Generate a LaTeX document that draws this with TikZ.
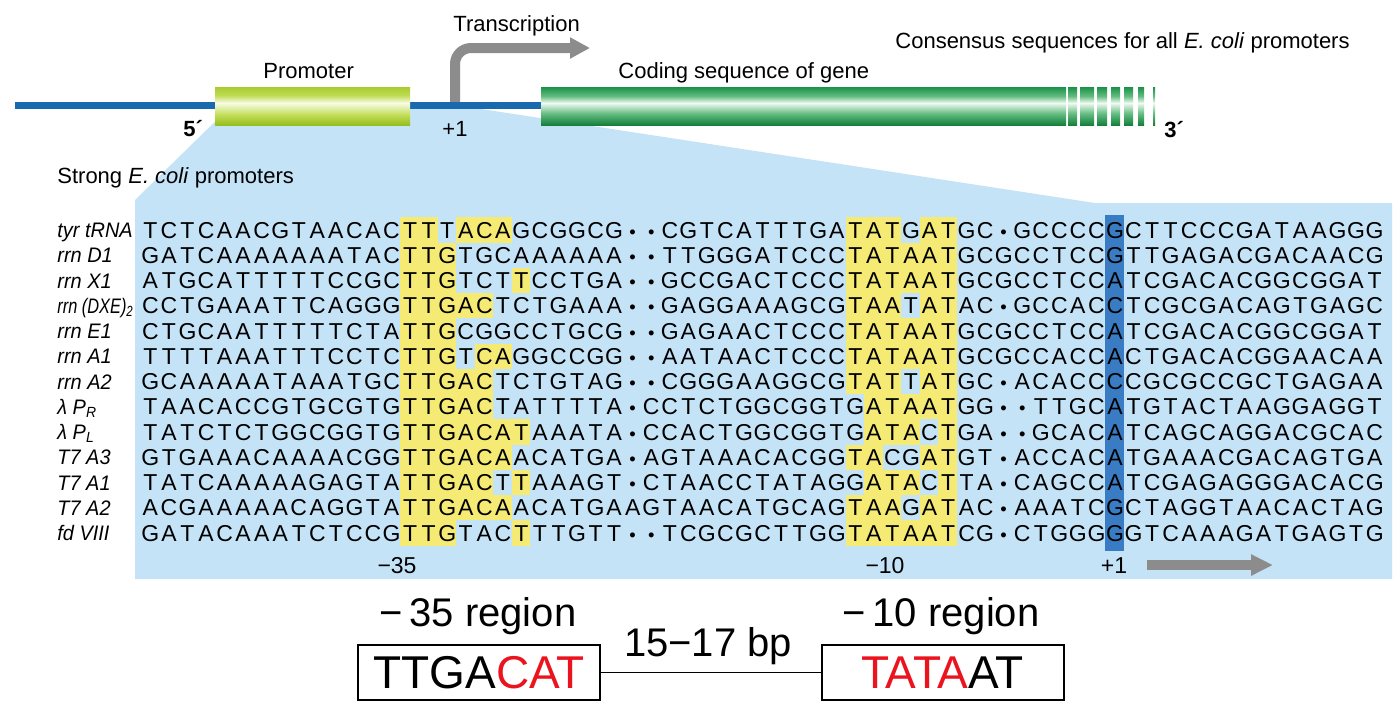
\documentclass[tikz,border=0pt]{standalone}
\usepackage{fontspec}
\setmainfont{Liberation Sans}
\newfontfamily\namefont[FakeStretch=0.95]{Liberation Sans}
\usetikzlibrary{arrows.meta}

\definecolor{dnablue}{RGB}{25,105,175}
\definecolor{skyfill}{RGB}{197,227,247}
\definecolor{hly}{RGB}{245,234,115}
\definecolor{startblue}{RGB}{58,124,196}
\definecolor{arrowgray}{RGB}{140,140,140}
\definecolor{consred}{RGB}{235,20,30}
\definecolor{promA}{RGB}{150,190,30}
\definecolor{promB}{RGB}{192,220,85}
\definecolor{promC}{RGB}{248,252,228}
\definecolor{promD}{RGB}{168,204,45}
\definecolor{geneA}{RGB}{20,128,60}
\definecolor{geneB}{RGB}{100,188,128}
\definecolor{geneC}{RGB}{240,250,242}
\definecolor{geneD}{RGB}{25,145,72}

\pgfdeclareverticalshading{promshade}{100bp}{color(0bp)=(promA); color(25bp)=(promA); color(38bp)=(promB); color(54bp)=(promC); color(64bp)=(promB); color(75bp)=(promD); color(100bp)=(promD)}
\pgfdeclareverticalshading{geneshade}{100bp}{color(0bp)=(geneA); color(25bp)=(geneA); color(40bp)=(geneB); color(54bp)=(geneC); color(63bp)=(geneB); color(75bp)=(geneD); color(100bp)=(geneD)}

% one letter per column
\newlength\seqw \setlength\seqw{9.275pt}
\def\seqtext#1{\expandafter\seqloop#1\relax}
\def\seqloop#1{\ifx#1\relax\else\makebox[\seqw]{\ifx#1-\scalebox{0.8}{\textbullet}\else#1\fi}\expandafter\seqloop\fi}

\begin{document}
\begin{tikzpicture}[x=0.5pt, y=-0.5pt,
    seq/.style = {anchor=base west, inner sep=0pt, font=\fontsize{11.5}{13}\selectfont},
    rowname/.style = {anchor=base west, inner sep=0pt, font=\fontsize{10.5}{12}\selectfont\namefont\itshape},
    lbl/.style = {anchor=base west, inner sep=0pt, font=\fontsize{11}{13}\selectfont},
    poslbl/.style = {anchor=base, inner sep=0pt, font=\fontsize{11.5}{13}\selectfont},
    reglbl/.style = {anchor=base, inner sep=0pt, font=\fontsize{20}{24}\selectfont},
    consbox/.style = {draw, line width=1pt, minimum width=121pt, minimum height=27.5pt,
                      inner sep=0pt, font=\fontsize{23}{27}\selectfont},
    thickarrow/.style = {arrowgray, line width=5pt, -{Triangle[length=10pt,width=10pt]}}]

  \useasboundingbox (0,0) rectangle (1400,708);
  \fill[white] (0,0) rectangle (1400,708);

  % Blow-up of the promoter region
  \fill[skyfill] (232,105) -- (455,105) -- (1095,203) -- (1392,203) -- (1392,579)
    -- (135,579) -- (135,200) -- cycle;

  % Transcription arrow
  \coordinate (tss) at (455,105);
  \coordinate (txtip) at (590,48);
  \draw[thickarrow, rounded corners=8pt] (tss) |- (txtip);

  % DNA, promoter and gene
  \draw[dnablue, line width=3.5pt] (15,105) -- (541,105);
  \shade[shading=promshade] (215,87) rectangle (410,125);
  \shade[shading=geneshade] (541,87) rectangle (1066,125);
  \foreach \a/\b in {1068/1077,1080/1094,1097/1107,1111/1120,1124/1133,1138/1144,1153/1155}
    \shade[shading=geneshade] (\a,87) rectangle (\b,125);

  \node[lbl] (trans) at (453,31) {Transcription};
  \node[lbl] (prom) at (263,78) {Promoter};
  \node[lbl] (gene) at (618,78) {Coding sequence of gene};
  \node[lbl] (cons) at (895,48) {Consensus sequences for all \textit{E. coli} promoters};
  \node[lbl] (strong) at (57,183) {Strong \textit{E. coli} promoters};
  \node[lbl, font=\fontsize{11}{13}\selectfont\bfseries] (five) at (183,136) {5´};
  \node[lbl] (plusone) at (442,136) {+1};
  \node[lbl, font=\fontsize{11}{13}\selectfont\bfseries] (three) at (1164,137) {3´};

  % Matches to the consensus
  \foreach \r/\a/\b in {1/15/16,1/18/20,1/39/41,1/43/44, 2/15/17,2/39/44,
      3/15/17,3/21/21,3/39/44, 4/15/19,4/39/41,4/43/44, 5/15/17,5/39/44,
      6/15/17,6/19/20,6/39/44, 7/15/19,7/39/41,7/43/44, 8/15/19,8/40/44,
      9/15/21,9/40/42,9/44/44, 10/15/20,10/39/40,10/43/44,
      11/15/19,11/21/21,11/40/42,11/44/44, 12/15/20,12/39/41,12/43/44,
      13/15/17,13/21/21,13/39/44}
    \fill[hly] ({140.725+18.55*(\a-1)},{217.375+25.25*(\r-1)})
      rectangle ({140.725+18.55*\b},{217.375+25.25*\r});

  % Start site column
  \fill[startblue] (1105.3,215) rectangle (1123.9,551);

  % Sequences
  \foreach \r/\nm/\sq in {
      1/{tyr tRNA}/TCTCAACGTAACACTTTACAGCGGCG--CGTCATTTGATATGATGC-GCCCCGCTTCCCGATAAGGG,
      2/{rrn D1}/GATCAAAAAAATACTTGTGCAAAAAA--TTGGGATCCCTATAATGCGCCTCCGTTGAGACGACAACG,
      3/{rrn X1}/ATGCATTTTTCCGCTTGTCTTCCTGA--GCCGACTCCCTATAATGCGCCTCCATCGACACGGCGGAT,
      4/{\scalebox{0.82}[1]{rrn (DXE)\textsubscript{2}}}/CCTGAAATTCAGGGTTGACTCTGAAA--GAGGAAAGCGTAATATAC-GCCACCTCGCGACAGTGAGC,
      5/{rrn E1}/CTGCAATTTTTCTATTGCGGCCTGCG--GAGAACTCCCTATAATGCGCCTCCATCGACACGGCGGAT,
      6/{rrn A1}/TTTTAAATTTCCTCTTGTCAGGCCGG--AATAACTCCCTATAATGCGCCACCACTGACACGGAACAA,
      7/{rrn A2}/GCAAAAATAAATGCTTGACTCTGTAG--CGGGAAGGCGTATTATGC-ACACCCCGCGCCGCTGAGAA,
      8/{λ P\textsubscript{R}}/TAACACCGTGCGTGTTGACTATTTTA-CCTCTGGCGGTGATAATGG--TTGCATGTACTAAGGAGGT,
      9/{λ P\textsubscript{L}}/TATCTCTGGCGGTGTTGACATAAATA-CCACTGGCGGTGATACTGA--GCACATCAGCAGGACGCAC,
      10/{T7 A3}/GTGAAACAAAACGGTTGACAACATGA-AGTAAACACGGTACGATGT-ACCACATGAAACGACAGTGA,
      11/{T7 A1}/TATCAAAAAGAGTATTGACTTAAAGT-CTAACCTATAGGATACTTA-CAGCCATCGAGAGGGACACG,
      12/{T7 A2}/ACGAAAAACAGGTATTGACAACATGAAGTAACATGCAGTAAGATAC-AAATCGCTAGGTAACACTAG,
      13/{fd VIII}/GATACAAATCTCCGTTGTACTTTGTT--TCGCGCTTGGTATAATCG-CTGGGGGTCAAAGATGAGTG}{
    \node[rowname] (n\r) at (57,{237.5+25.25*(\r-1)}) {\nm};
    \node[seq] (s\r) at (140.725,{238+25.25*(\r-1)}) {\seqtext{\sq}};
  }

  \node[poslbl] (m35) at (397,573) {−35};
  \node[poslbl] (m10) at (885,573) {−10};
  \node[poslbl] (p1) at (1114,573) {+1};
  \coordinate (rnaA) at (1147,565);
  \coordinate (rnaB) at (1273,565);
  \draw[thickarrow, -{Triangle[length=11pt,width=10pt]}] (rnaA) -- (rnaB);

  % Consensus
  \node[reglbl] (reg35) at (478,626) {−\,35 region};
  \node[reglbl] (reg10) at (941,626) {−\,10 region};
  \node[consbox] (box35) at (479,672.5) {TTGA\textcolor{consred}{CAT}};
  \node[consbox] (box10) at (942.5,672.5) {\textcolor{consred}{TATA}AT};
  \draw[line width=0.8pt] (box35) -- (box10);
  \node[reglbl] (gap) at (708,656) {15−17 bp};

\end{tikzpicture}
\end{document}
